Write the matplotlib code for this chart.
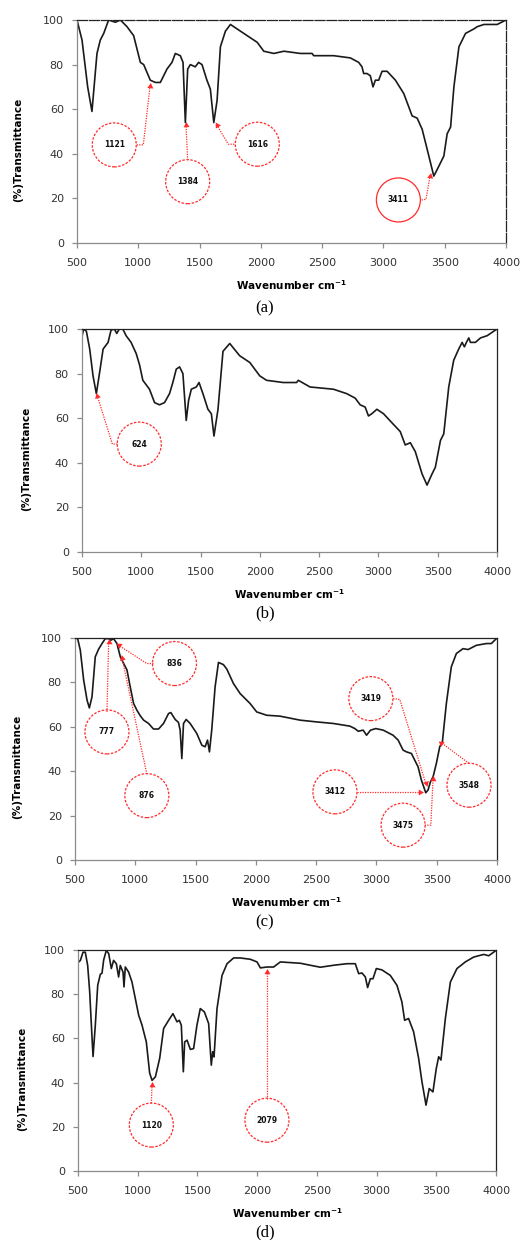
import numpy as np
import matplotlib
matplotlib.use('Agg')
import matplotlib.pyplot as plt
from matplotlib.patches import Circle
from matplotlib.transforms import ScaledTranslation

# ---- spectrum (a)
wn_a = [500, 541, 587, 622, 663, 690, 718, 758, 813, 854, 908, 962, 1017, 1044, 1098, 1139, 1180,
        1234, 1275, 1302, 1343, 1365, 1384, 1403, 1425, 1465, 1492, 1520, 1560, 1588, 1616, 1643,
        1670, 1711, 1752, 1806, 1888, 1970, 2024, 2106, 2188, 2322, 2418, 2431, 2594, 2730, 2798,
        2825, 2839, 2866, 2893, 2915, 2934, 2961, 2989, 3030, 3098, 3166, 3207, 3234, 3275, 3316,
        3357, 3411, 3439, 3466, 3493, 3520, 3548, 3575, 3616, 3670, 3738, 3765, 3820, 3928, 4000]
t_a = [100, 91, 70, 59, 85, 91, 94, 100, 99, 100, 97, 93, 81, 80, 73, 72, 72,
       78, 81, 85, 84, 81, 54, 78, 80, 79, 81, 80, 73, 69, 54, 64,
       88, 95, 98, 96, 93, 90, 86, 85, 86, 85, 85, 84, 84, 83, 81,
       79, 76, 76, 75, 70, 73, 73, 77, 77, 73, 67, 61, 57, 56, 51,
       42, 30, 33, 36, 39, 49, 52, 70, 88, 94, 96, 97, 98, 98, 100]

# ---- spectrum (b)
wn_b = [500, 514, 537, 565, 593, 621, 650, 678, 720, 745, 773, 793, 815, 844, 872, 914, 957, 985,
        1013, 1041, 1069, 1112, 1154, 1196, 1238, 1266, 1295, 1323, 1351, 1379, 1399, 1422, 1464,
        1487, 1520, 1562, 1591, 1613, 1647, 1689, 1746, 1830, 1915, 1999, 2056, 2197, 2310, 2324,
        2423, 2620, 2733, 2804, 2846, 2888, 2916, 2944, 2987, 3043, 3113, 3184, 3226, 3269, 3311,
        3368, 3410, 3452, 3480, 3523, 3551, 3593, 3635, 3677, 3706, 3725, 3742, 3762, 3776, 3818,
        3861, 3917, 4000]
t_b = [96.6, 100, 99, 91, 79, 71, 81, 91, 94, 99.5, 100, 98, 100, 100, 97, 94, 89, 84,
       77, 75, 73, 67, 66, 67, 71, 76, 82, 83, 80, 59, 68, 73, 74,
       76, 71, 64, 62, 52, 64, 90, 93.5, 88, 85, 79, 77, 76, 76, 77,
       74, 73, 71, 69, 66, 65, 61, 62, 64, 62, 58, 54, 48, 49, 45,
       35, 30, 35, 38, 50, 53, 74, 86, 91, 94, 92, 94, 96, 94, 94,
       96, 97, 100]

# ---- spectrum (c)
wn_c = [500, 522, 544, 572, 600, 619, 641, 668, 696, 724, 751, 779, 798, 820, 848, 876, 931, 958,
        986, 1013, 1041, 1069, 1110, 1151, 1193, 1234, 1276, 1295, 1331, 1358, 1372, 1386, 1400,
        1422, 1455, 1510, 1552, 1579, 1599, 1615, 1634, 1662, 1690, 1731, 1759, 1814, 1869, 1952,
        2007, 2090, 2200, 2366, 2504, 2642, 2780, 2821, 2849, 2890, 2918, 2951, 2995, 3056, 3138,
        3180, 3221, 3249, 3290, 3345, 3373, 3409, 3428, 3448, 3470, 3497, 3525, 3547, 3580, 3621,
        3663, 3718, 3760, 3829, 3912, 3953, 4000]
t_c = [100, 99.7, 94.5, 81, 72, 68.5, 73.5, 91.5, 95, 97.5, 99.7, 99.7, 99, 99.7, 97.5, 91.5, 85.6, 78,
       70.5, 67.5, 65, 63, 61.5, 59, 59, 61.5, 66, 66.4, 63.3, 62, 58.5, 45.7, 61.5,
       63.3, 61.5, 57, 51.7, 51, 54, 48.7, 58.5, 78, 89, 88, 86, 79.5, 75, 70.5,
       66.7, 65.2, 64.8, 63, 62.2, 61.5, 60.3, 59.2, 58, 58.5, 56.2, 58.5, 59.2, 58.5, 56.2,
       54, 49.5, 48.7, 48, 42, 36, 30.3, 31.5, 35.2, 37.5, 43.5, 51, 53.2, 70.5, 87,
       93, 95.2, 94.8, 96.7, 97.5, 97.5, 100]

# ---- spectrum (d)
wn_d = [500, 520, 542, 561, 581, 598, 612, 626, 645, 665, 687, 701, 715, 737, 757, 779, 798, 821,
        840, 854, 877, 885, 896, 924, 952, 980, 1008, 1036, 1072, 1100, 1120, 1148, 1184, 1217,
        1259, 1295, 1329, 1348, 1365, 1382, 1393, 1413, 1441, 1468, 1496, 1524, 1558, 1594, 1616,
        1628, 1639, 1664, 1706, 1748, 1803, 1859, 1943, 1999, 2027, 2082, 2138, 2194, 2362, 2473,
        2529, 2641, 2752, 2822, 2850, 2878, 2906, 2925, 2948, 2970, 2998, 3045, 3115, 3171, 3212,
        3235, 3268, 3310, 3352, 3380, 3414, 3441, 3472, 3500, 3520, 3539, 3576, 3618, 3673, 3743,
        3813, 3897, 3939, 4000]
t_d = [94.3, 95.3, 99, 99, 93, 81, 66, 51.8, 66, 84, 89, 89.5, 95.5, 99.8, 98.4, 91.6, 95.3, 93.8,
       87.8, 93, 90, 83.3, 92.3, 90, 85.5, 78, 70.5, 66, 58.4, 44.3, 41, 42.6, 51, 64.5,
       68.2, 71.2, 67.5, 68.2, 66, 44.9, 58.4, 59.2, 55, 55.4, 66, 73.5, 72, 66.7, 47.9,
       54, 51.6, 73.5, 88.5, 93.8, 96.4, 96.4, 95.8, 94.6, 91.9, 92.3, 92.3, 94.6, 94, 92.8,
       92.2, 93.1, 93.8, 93.8, 89.3, 89.6, 87.8, 83, 87, 87, 91.6, 91, 88.5, 84, 76.5,
       68.2, 69, 63, 51, 40.4, 29.8, 37.3, 35.8, 46.4, 51.7, 50.2, 69, 85.5, 91.6, 94.6,
       96.8, 98, 97.4, 99.8]

# peak labels: text, circle centre, dotted leader path (last point = arrow tip), solid circle?
labels_a = [('1121', (804, 44), [(987, 44), (1041, 44), (1096, 70.4)], False),
            ('1384', (1403, 27.5), [(1403, 37.2), (1389, 53)], False),
            ('1616', (1971, 44.3), [(1783, 44.3), (1734, 44.3), (1640, 53)], False),
            ('3411', (3122, 19.3), [(3312, 19.3), (3347, 19.6), (3380, 30)], True)]
labels_b = [('624', (983, 48.4), [(798, 48.4), (756, 48.4), (629, 70)], False)]
labels_c = [('836', (1325, 88.5), [(1151, 88.5), (1096, 88.5), (862, 96.7)], False),
            ('777', (765, 57.7), [(765, 66.7), (779, 98.2)], False),
            ('876', (1096, 29), [(1096, 38.7), (889, 91.2)], False),
            ('3419', (2954, 72.7), [(3139, 72.7), (3194, 72.3), (3409, 34.5)], False),
            ('3412', (2656, 30.7), [(2835, 30.7), (3365, 30.7)], False),
            ('3475', (3221, 15.7), [(3401, 15.7), (3451, 15.7), (3470, 36.7)], False),
            ('3548', (3768, 33.7), [(3768, 43.5), (3539, 52.8)], False)]
labels_d = [('1120', (1114, 20.8), [(1114, 30.6), (1120, 38.9)], False),
            ('2079', (2082, 23), [(2082, 32.8), (2082, 90)], False)]

panels = [
    # data, labels, caption, axes box in px (left, right, top, bottom), ylabel x px, dashed frame
    (wn_a, t_a, labels_a, '(a)', (77, 506, 20, 243), 18, True, 308),
    (wn_b, t_b, labels_b, '(b)', (82, 497, 329, 552), 26, False, 613),
    (wn_c, t_c, labels_c, '(c)', (75, 497, 638, 860), 17, False, 922),
    (wn_d, t_d, labels_d, '(d)', (78, 496, 950, 1171), 22, False, 1232),
]

W, H = 520, 1240
RED = '#ff2b2b'
fig = plt.figure(figsize=(W / 100, H / 100), dpi=100)

for wn, tr, labels, cap, (l, r, t, b), ylx, dashed, capy in panels:
    ax = fig.add_axes([l / W, 1 - b / H, (r - l) / W, (b - t) / H])
    ax.plot(wn, tr, color='#1a1a1a', lw=1.2)
    ax.set_xlim(500, 4000)
    ax.set_ylim(0, 100)
    ax.set_xticks(np.arange(500, 4001, 500))
    ax.set_yticks(np.arange(0, 101, 20))
    for s in ['left', 'bottom']:
        ax.spines[s].set_color('#8c8c8c')
        ax.spines[s].set_linewidth(0.9)
    for s in ['top', 'right']:
        ax.spines[s].set_color('#222222')
        ax.spines[s].set_linewidth(0.9)
        if dashed:
            ax.spines[s].set_linestyle((0, (8, 1.5)))
    ax.tick_params(axis='both', direction='out', length=3.5, width=0.9, color='#8c8c8c',
                   labelsize=8, labelcolor='#333333')
    ax.tick_params(axis='x', pad=7)
    ax.tick_params(axis='y', pad=6)

    h = b - t
    ax.text(0.5, (b - (b + 42)) / h, 'Wavenumber cm$^{\\mathbf{-1}}$', transform=ax.transAxes,
            ha='center', va='center', fontsize=7.5, fontweight='bold')
    ax.text((ylx - l) / (r - l), (b - ((t + b) / 2 + 18)) / h, '(%)Transmittance',
            transform=ax.transAxes, rotation=90, ha='center', va='center',
            fontsize=7.5, fontweight='bold')
    fig.text(265 / W, 1 - capy / H, cap, family='Liberation Serif', fontsize=12,
             ha='center', va='center')

    for txt, (cx, cy), path, solid in labels:
        trf = fig.dpi_scale_trans + ScaledTranslation(cx, cy, ax.transData)
        ax.add_artist(Circle((0, 0), 0.22, transform=trf, fill=False, ec=RED, lw=0.9,
                             ls='-' if solid else (0, (2, 1.2))))
        ax.text(cx, cy, txt, ha='center', va='center', fontsize=5.5, fontweight='bold',
                color='#111111')
        xs = [cx] + [p[0] for p in path]
        ys = [cy] + [p[1] for p in path]
        ax.plot(xs[1:], ys[1:], ls=(0, (1, 1)), color=RED, lw=0.9)
        p0 = ax.transData.transform(path[-2] if len(path) > 1 else (cx, cy))
        p1 = ax.transData.transform(path[-1])
        ang = np.degrees(np.arctan2(p1[1] - p0[1], p1[0] - p0[0])) - 90
        ax.plot(path[-1][0], path[-1][1], marker=(3, 0, ang), ms=5, color=RED, mew=0)

fig.savefig('out.png', dpi=100)
